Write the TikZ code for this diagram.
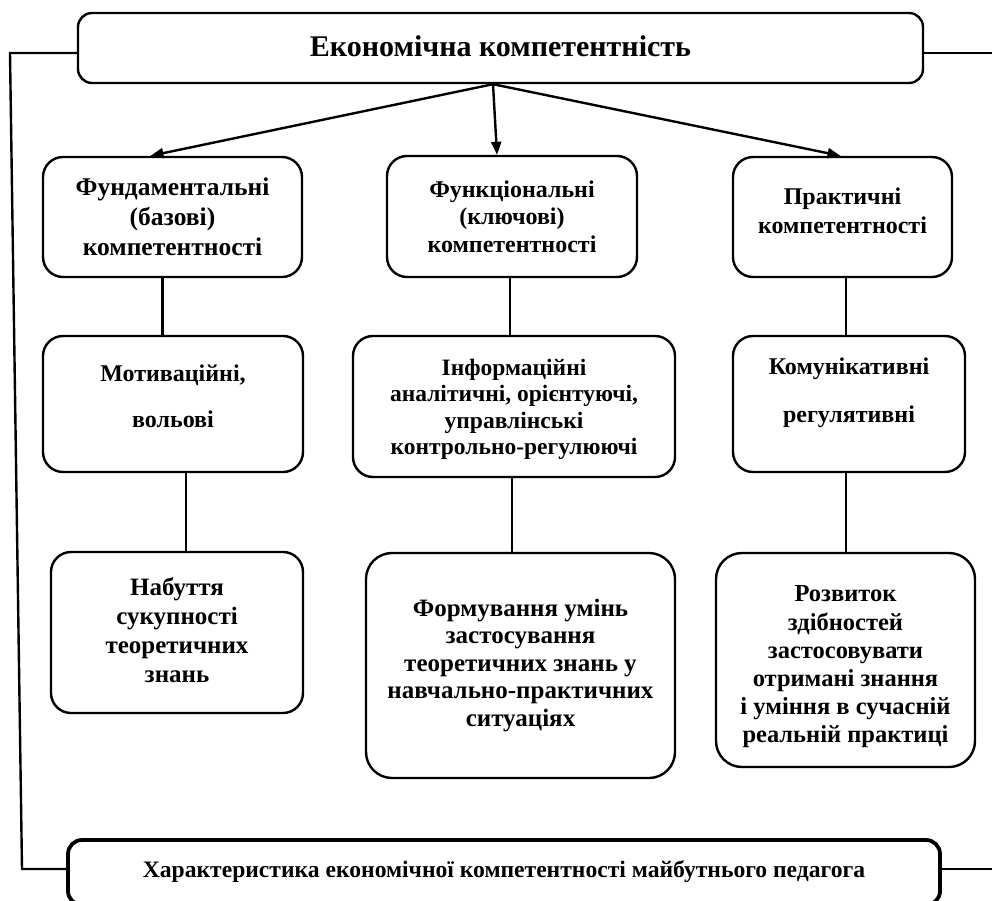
\documentclass[tikz,border=0pt]{standalone}
\usepackage{fontspec}
\setmainfont{Liberation Serif}
\usetikzlibrary{arrows.meta,calc}
\begin{document}
\begin{tikzpicture}[x=1pt,y=-1pt,
 box/.style={draw, line width=2.4pt, rounded corners=20pt, inner sep=0pt},
 txt/.style={align=center, inner sep=0pt, font=\bfseries\fontsize{24}{30}\selectfont},
 conn/.style={line width=2.4pt},
 arr/.style={line width=2.4pt, -{Triangle[length=13pt,width=10pt]}}]
\useasboundingbox (0,0) rectangle (992,901);
% top and bottom
\node[box, minimum width=845pt, minimum height=70pt, rounded corners=14pt] (top) at (500.5,48) {};
\node[txt, font=\bfseries\fontsize{30}{34}\selectfont] (topt) at ($(top.center)+(0,-2)$) {Економічна компетентність};
\node[box, line width=3.8pt, minimum width=872pt, minimum height=65pt, rounded corners=14pt] (bot) at (504,872.5) {};
\node[txt, font=\bfseries\fontsize{23.6}{28}\selectfont] (bott) at ($(bot.center)+(0,-1)$)
  {Характеристика економічної компетентності майбутнього педагога};
% row 1
\node[box, minimum width=259pt, minimum height=120pt] (b1) at (172.5,217) {};
\node[txt, font=\bfseries\fontsize{25.5}{30}\selectfont] (b1t) at (b1.center)
  {Фундаментальні\\(базові)\\компетентності};
\node[box, minimum width=250pt, minimum height=121pt] (b2) at (512,216.5) {};
\node[txt, font=\bfseries\fontsize{24}{27.5}\selectfont] (b2t) at (b2.center)
  {Функціональні\\(ключові)\\компетентності};
\node[box, minimum width=219pt, minimum height=120pt] (b3) at (842.5,217) {};
\node[txt, font=\bfseries\fontsize{24}{29}\selectfont] (b3t) at ($(b3.center)+(0,-6)$)
  {Практичні\\компетентності};
% row 2
\node[box, minimum width=260pt, minimum height=136pt] (m1) at (173,404) {};
\node[txt] (m1t) at ($(m1.center)+(0,-8)$) {Мотиваційні,\\[16pt]вольові};
\node[box, minimum width=322pt, minimum height=141pt] (m2) at (514,406.5) {};
\node[txt, font=\bfseries\fontsize{23.5}{26.5}\selectfont] (m2t) at ($(m2.center)+(0,3)$)
  {Інформаційні\\аналітичні, орієнтуючі,\\управлінські\\контрольно-регулюючі};
\node[box, minimum width=232pt, minimum height=136pt] (m3) at (849,404) {};
\node[txt] (m3t) at ($(m3.center)+(0,-11)$) {Комунікативні\\[18pt]регулятивні};
% row 3
\node[box, minimum width=252pt, minimum height=161pt] (l1) at (177,632.5) {};
\node[txt, font=\bfseries\fontsize{25}{29}\selectfont] (l1t) at ($(l1.center)+(0,-2)$)
  {Набуття\\сукупності\\теоретичних\\знань};
\node[box, minimum width=309pt, minimum height=225pt, rounded corners=26pt] (l2) at (520.5,665.5) {};
\node[txt, font=\bfseries\fontsize{25}{27.5}\selectfont] (l2t) at (l2.center)
  {Формування умінь\\застосування\\теоретичних знань у\\навчально-практичних\\ситуаціях};
\node[box, minimum width=259pt, minimum height=214pt, rounded corners=26pt] (l3) at (845.5,660) {};
\node[txt, font=\bfseries\fontsize{24.5}{28.2}\selectfont] (l3t) at ($(l3.center)+(0,7)$)
  {Розвиток\\здібностей\\застосовувати\\отримані знання\\і уміння в сучасній\\реальній практиці};
% arrows from top
\draw[arr] ([xshift=-7.5pt]top.south) -- ([xshift=-22pt]b1.north);
\draw[arr] ([xshift=-7.5pt]top.south) -- ([xshift=-15pt]b2.north);
\draw[arr] ([xshift=-7.5pt]top.south) -- ([xshift=-2pt]b3.north);
% vertical connectors
\draw[conn] ([xshift=-10pt]b1.south) -- ([xshift=-10pt]b1.south |- m1.north);
\draw[conn] ([xshift=13pt]m1.south) -- ([xshift=13pt]m1.south |- l1.north);
\draw[conn] ([xshift=-2pt]b2.south) -- ([xshift=-2pt]b2.south |- m2.north);
\draw[conn] ([xshift=-2pt]m2.south) -- ([xshift=-2pt]m2.south |- l2.north);
\draw[conn] ([xshift=3.5pt]b3.south) -- ([xshift=3.5pt]b3.south |- m3.north);
\draw[conn] ([xshift=-3pt]m3.south) -- ([xshift=-3pt]m3.south |- l3.north);
% side lines
\coordinate (lt) at (10,53);
\coordinate (lb) at (22,869);
\coordinate (rt) at (992,53);
\coordinate (rb) at (992,869);
\draw[conn] ([yshift=-5pt]top.west) -- (lt) -- (lb) -- ([yshift=3.5pt]bot.west);
\draw[conn] ([yshift=-5pt]top.east) -- (rt);
\draw[conn] ([yshift=3.5pt]bot.east) -- (rb);
\end{tikzpicture}
\end{document}
